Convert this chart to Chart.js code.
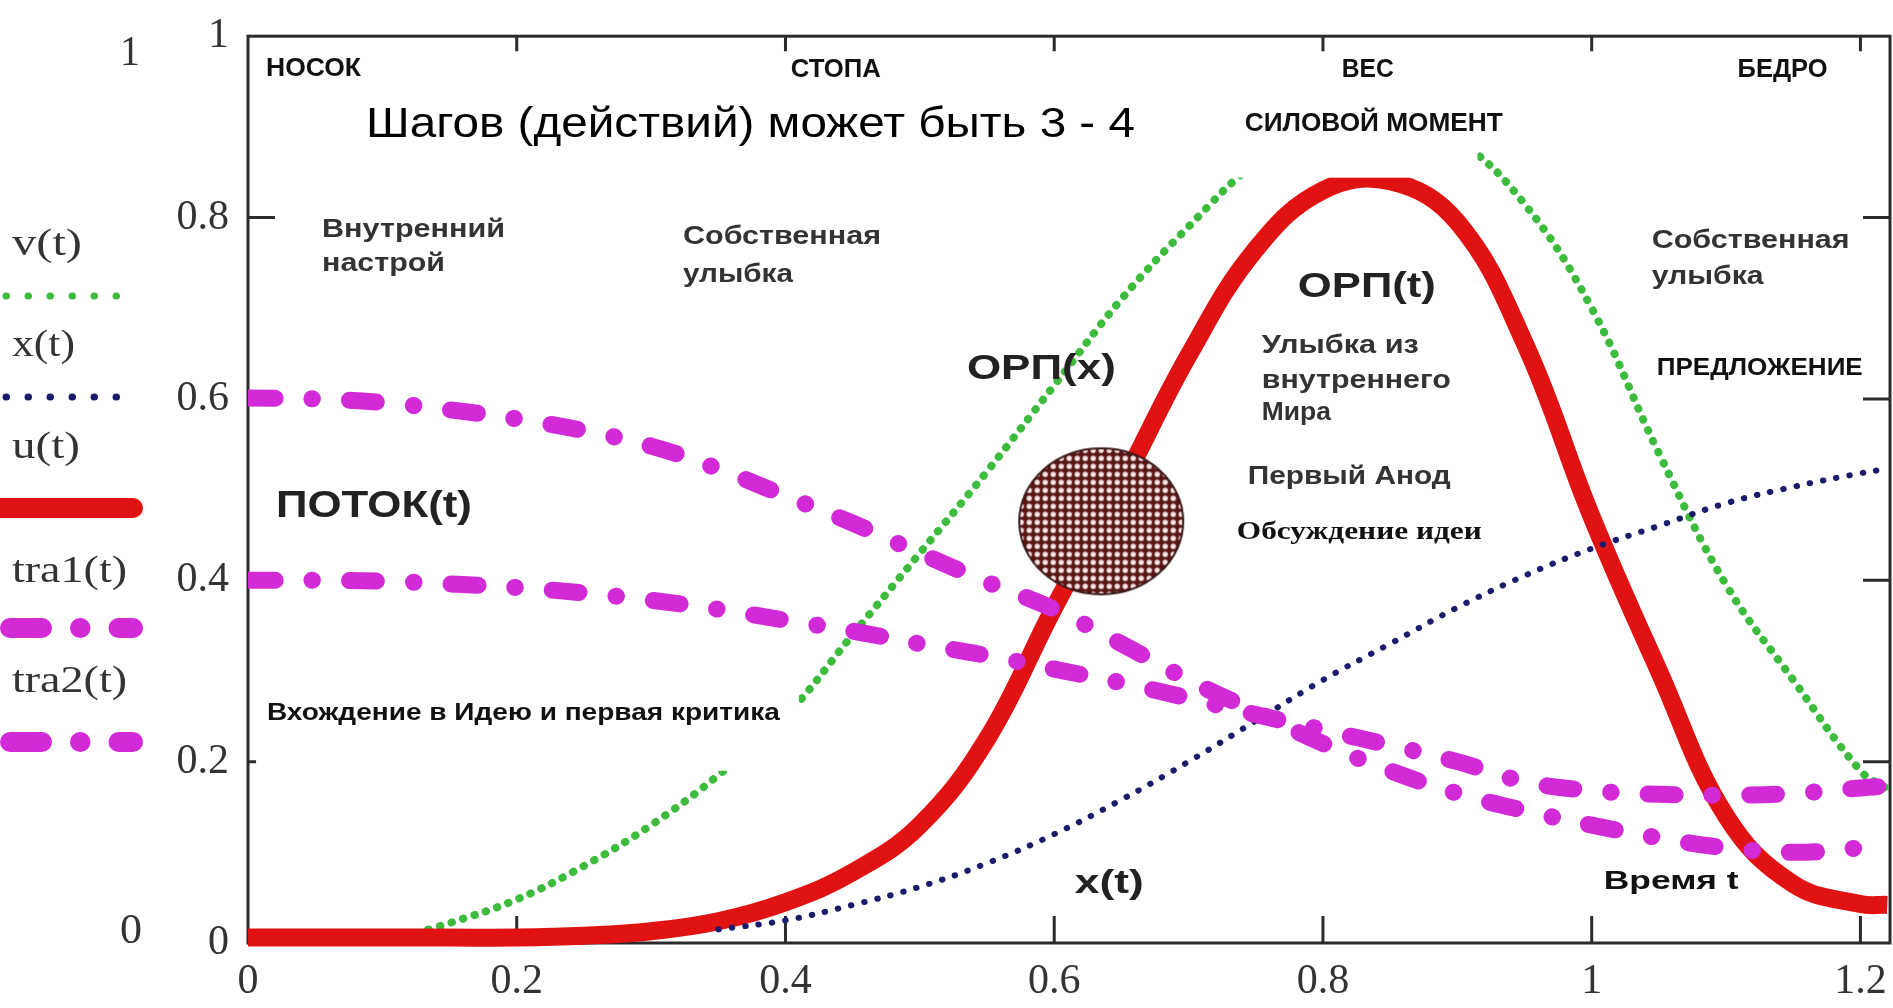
<!DOCTYPE html>
<html>
<head>
<meta charset="utf-8">
<script src="https://cdn.jsdelivr.net/npm/chart.js@4.4.1/dist/chart.umd.min.js"></script>
<style>
  html, body { margin: 0; padding: 0; background: #fff; }
  canvas { display: block; }
</style>
</head>
<body>
<canvas id="myChart" width="1893" height="1008"></canvas>
<script>
// time values along the x-axis
var tGrid = [0, 0.05, 0.1, 0.15, 0.2, 0.25, 0.3, 0.35, 0.4, 0.45, 0.5, 0.55, 0.6,
             0.65, 0.7, 0.75, 0.8, 0.85, 0.9, 0.95, 1.0, 1.05, 1.1, 1.15, 1.2, 1.22];
// v(t) green dotted
var vt = [null, null, 0, 0.022, 0.048, 0.085, 0.13, 0.185, 0.25, 0.34, 0.43, 0.52, 0.615,
          0.71, 0.79, 0.86, 0.9, 0.91, 0.885, 0.815, 0.7, 0.54, 0.395, 0.29, 0.19, 0.17];
// x(t) navy dotted
var xt = [null, null, null, null, null, null, null, 0.015, 0.025, 0.042, 0.062, 0.088, 0.12,
          0.158, 0.2, 0.245, 0.29, 0.33, 0.37, 0.405, 0.435, 0.46, 0.485, 0.503, 0.518, 0.523];
// u(t) red
var ut = [0.006, 0.006, 0.006, 0.006, 0.006, 0.008, 0.013, 0.024, 0.045, 0.078, 0.13, 0.225, 0.37,
          0.505, 0.648, 0.765, 0.83, 0.84, 0.795, 0.662, 0.47, 0.3, 0.14, 0.065, 0.043, 0.042];
// tra1(t), tra2(t) magenta dash-dot
var tra1 = [0.601, 0.6, 0.596, 0.588, 0.578, 0.565, 0.548, 0.523, 0.493, 0.463, 0.43, 0.398, 0.368,
            0.33, 0.29, 0.255, 0.22, 0.19, 0.165, 0.146, 0.13, 0.116, 0.105, 0.1, 0.105, 0.11];
var tra2 = [0.4, 0.4, 0.399, 0.396, 0.392, 0.386, 0.378, 0.368, 0.356, 0.344, 0.33, 0.317, 0.302,
            0.287, 0.27, 0.252, 0.235, 0.218, 0.2, 0.178, 0.168, 0.164, 0.163, 0.165, 0.171, 0.173];

var xTicks = [0, 0.2, 0.4, 0.6, 0.8, 1, 1.2];
var yTicks = [0, 0.2, 0.4, 0.6, 0.8, 1];

// the hatched spot on the curve (centre in data units)
var spot = { x: 0.635, y: 0.465 };

var SANS = '"Liberation Sans", Arial, sans-serif';
var SERIF = '"Liberation Serif", "Times New Roman", serif';

var green = '#3dbb3d', navy = '#1b1b6b', red = '#e01212', magenta = '#d22ad6';

function pts(vals) {
  return tGrid.map(function (t, i) { return { x: t, y: vals[i] }; });
}

// pattern fill for the spot
function spotImage() {
  var pc = document.createElement('canvas');
  pc.width = 8; pc.height = 8;
  var p = pc.getContext('2d');
  p.fillStyle = '#581616'; p.fillRect(0, 0, 8, 8);
  p.fillStyle = '#f6e2e2';
  p.beginPath(); p.arc(4, 4, 2.7, 0, Math.PI * 2); p.fill();
  var img = document.createElement('canvas');
  img.width = 168; img.height = 150;
  var c = img.getContext('2d');
  c.fillStyle = c.createPattern(pc, 'repeat');
  c.beginPath(); c.ellipse(84, 75, 82, 73, 0, 0, Math.PI * 2); c.fill();
  c.strokeStyle = '#3a1a1a'; c.lineWidth = 2; c.stroke();
  return img;
}

// in-plot captions: text, x, y (data), width px, font, colour
var notes = [
  ['НОСОК', 0.0134, 0.964, 95, 'bold 25px ' + SANS, '#111'],
  ['СТОПА', 0.404, 0.963, 90, 'bold 25px ' + SANS, '#111'],
  ['ВЕС', 0.814, 0.963, 52, 'bold 25px ' + SANS, '#111'],
  ['БЕДРО', 1.1086, 0.963, 90, 'bold 25px ' + SANS, '#111'],
  ['Шагов (действий) может быть 3 - 4', 0.0878, 0.9017, 769, '42px ' + SANS, '#000'],
  ['СИЛОВОЙ МОМЕНТ', 0.7418, 0.9028, 258, 'bold 25px ' + SANS, '#111'],
  ['Внутренний', 0.0551, 0.786, 183, 'bold 25px ' + SANS, '#333'],
  ['настрой', 0.0551, 0.749, 123, 'bold 25px ' + SANS, '#333'],
  ['Собственная', 0.3237, 0.778, 198, 'bold 25px ' + SANS, '#333'],
  ['улыбка', 0.3237, 0.737, 110, 'bold 25px ' + SANS, '#333'],
  ['Собственная', 1.0446, 0.774, 198, 'bold 25px ' + SANS, '#333'],
  ['улыбка', 1.0446, 0.734, 112, 'bold 25px ' + SANS, '#333'],
  ['ОРП(t)', 0.7813, 0.7227, 138, 'bold 35px ' + SANS, '#222'],
  ['ОРП(x)', 0.535, 0.6321, 149, 'bold 35px ' + SANS, '#222'],
  ['Улыбка из', 0.7545, 0.6583, 157, 'bold 25px ' + SANS, '#333'],
  ['внутреннего', 0.7545, 0.6201, 189, 'bold 25px ' + SANS, '#333'],
  ['Мира', 0.7545, 0.584, 69, 'bold 25px ' + SANS, '#333'],
  ['ПРЕДЛОЖЕНИЕ', 1.0484, 0.6332, 206, 'bold 24px ' + SANS, '#111'],
  ['ПОТОК(t)', 0.0208, 0.4814, 196, 'bold 37px ' + SANS, '#222'],
  ['Первый Анод', 0.744, 0.5142, 203, 'bold 26px ' + SANS, '#333'],
  ['Обсуждение идеи', 0.7359, 0.453, 245, 'bold 26px ' + SERIF, '#111'],
  ['Вхождение в Идею и первая критика', 0.0141, 0.2533, 513, 'bold 24px ' + SANS, '#111'],
  ['x(t)', 0.6153, 0.0655, 69, 'bold 34px ' + SANS, '#222'],
  ['Время t', 1.0089, 0.0677, 135, 'bold 26px ' + SANS, '#111']
];

// white cover boxes pasted over the curves (data units)
var covers = [
  { x0: 0.2917, x1: 0.915, y0: 0.844, y1: 0.953 },
  { x0: 0.006, x1: 0.41, y0: 0.19, y1: 0.276 }
];

// left-hand legend (Mathcad style)
var legendRows = [
  { label: 'v(t)', ty: 245, ly: 296, kind: 'dots', color: green, w: 70 },
  { label: 'x(t)', ty: 346, ly: 397, kind: 'dots', color: navy, w: 63 },
  { label: 'u(t)', ty: 448, ly: 508, kind: 'solid', color: red, w: 68 },
  { label: 'tra1(t)', ty: 572, ly: 628, kind: 'dashdot', color: magenta, w: 115 },
  { label: 'tra2(t)', ty: 682, ly: 742, kind: 'dashdot', color: magenta, w: 115 }
];

function fitText(c, txt, x, y, font, w, color) {
  c.font = font;
  var nat = c.measureText(txt).width;
  c.save();
  c.translate(x, y);
  c.scale(w / nat, 1);
  c.fillStyle = color;
  c.textBaseline = 'middle';
  c.textAlign = 'left';
  c.fillText(txt, 0, 0);
  c.restore();
}

var framePlugin = {
  id: 'frame',
  beforeDatasetsDraw: function (chart) {
    var c = chart.ctx, a = chart.chartArea, sx = chart.scales.x, sy = chart.scales.y;
    c.save();
    c.strokeStyle = '#2b2b2b';
    c.lineWidth = 3;
    c.strokeRect(a.left, a.top, a.right - a.left, a.bottom - a.top);
    c.beginPath();
    xTicks.forEach(function (v) {
      if (v <= 0) return;
      var px = sx.getPixelForValue(v);
      c.moveTo(px, a.bottom); c.lineTo(px, a.bottom - 27);
      c.moveTo(px, a.top); c.lineTo(px, a.top + 15);
    });
    yTicks.forEach(function (v) {
      if (v <= 0 || v >= 1) return;
      var py = sy.getPixelForValue(v);
      c.moveTo(a.left, py); c.lineTo(a.left + 27, py);
      c.moveTo(a.right, py); c.lineTo(a.right - 27, py);
    });
    c.stroke();
    c.restore();
  },
  afterDatasetsDraw: function (chart) {
    var c = chart.ctx, sx = chart.scales.x, sy = chart.scales.y;
    c.save();
    c.fillStyle = '#fff';
    covers.forEach(function (b) {
      var x0 = sx.getPixelForValue(b.x0), x1 = sx.getPixelForValue(b.x1);
      var y0 = sy.getPixelForValue(b.y1), y1 = sy.getPixelForValue(b.y0);
      c.fillRect(x0, y0, x1 - x0, y1 - y0);
    });
    notes.forEach(function (n) {
      fitText(c, n[0], sx.getPixelForValue(n[1]), sy.getPixelForValue(n[2]), n[4], n[3], n[5]);
    });
    c.restore();
  },
  afterDraw: function (chart) {
    var c = chart.ctx;
    c.save();
    fitText(c, '1', 120, 54, '42px ' + SERIF, 20, '#333');
    fitText(c, '0', 120, 932, '42px ' + SERIF, 22, '#333');
    legendRows.forEach(function (r) {
      fitText(c, r.label, 12, r.ty, '38px ' + SERIF, r.w, '#333');
      c.beginPath();
      c.strokeStyle = r.color;
      c.lineCap = 'round';
      if (r.kind === 'dots') {
        c.lineWidth = 7;
        c.setLineDash([0.5, 21.5]);
        c.moveTo(6, r.ly); c.lineTo(122, r.ly);
      } else if (r.kind === 'solid') {
        c.lineWidth = 20;
        c.setLineDash([]);
        c.moveTo(0, r.ly); c.lineTo(133, r.ly);
      } else {
        c.lineWidth = 20;
        c.setLineDash([32, 38, 0.5, 38]);
        c.moveTo(10, r.ly); c.lineTo(133, r.ly);
      }
      c.stroke();
    });
    c.restore();
  }
};

var ctx = document.getElementById('myChart');
var myChart = new Chart(ctx, {
  type: 'line',
  data: {
    datasets: [
      {
        type: 'scatter',
        data: [spot],
        pointStyle: spotImage(),
        pointRadius: 80,
        showLine: false
      },
      {
        data: pts(tra1),
        borderColor: magenta,
        borderWidth: 17,
        borderDash: [27, 37, 0.5, 37],
        borderCapStyle: 'round',
        tension: 0.4
      },
      {
        data: pts(tra2),
        borderColor: magenta,
        borderWidth: 17,
        borderDash: [27, 37, 0.5, 37],
        borderCapStyle: 'round',
        tension: 0.4
      },
      {
        data: pts(xt),
        borderColor: navy,
        borderWidth: 6,
        borderDash: [0.5, 13],
        borderCapStyle: 'round',
        tension: 0.4
      },
      {
        data: pts(ut),
        borderColor: red,
        borderWidth: 18,
        tension: 0.4,
        clip: { left: 0, top: 0, right: 0, bottom: 12 }
      },
      {
        data: pts(vt),
        borderColor: green,
        borderWidth: 8,
        borderDash: [0.5, 11.5],
        borderCapStyle: 'round',
        tension: 0.4
      }
    ]
  },
  options: {
    responsive: false,
    animation: false,
    elements: { point: { radius: 0 } },
    layout: { autoPadding: false, padding: { top: 8, right: 3, left: 0, bottom: 0 } },
    plugins: { legend: { display: false }, tooltip: { enabled: false } },
    scales: {
      x: {
        type: 'linear',
        min: 0,
        max: 1.222,
        grid: { display: false },
        border: { display: false },
        afterFit: function (s) { s.height = 65; },
        afterBuildTicks: function (s) { s.ticks = xTicks.map(function (v) { return { value: v }; }); },
        ticks: {
          autoSkip: false,
          maxRotation: 0,
          padding: 6,
          color: '#333',
          font: { family: SERIF, size: 42 },
          callback: function (v) { return String(v); }
        }
      },
      y: {
        min: 0,
        max: 1,
        grid: { display: false },
        border: { display: false },
        afterFit: function (s) { s.width = 248; },
        afterBuildTicks: function (s) { s.ticks = yTicks.map(function (v) { return { value: v }; }); },
        ticks: {
          padding: 11,
          color: '#333',
          font: { family: SERIF, size: 42 },
          callback: function (v) { return String(v); }
        }
      }
    }
  },
  plugins: [framePlugin]
});
</script>
</body>
</html>
